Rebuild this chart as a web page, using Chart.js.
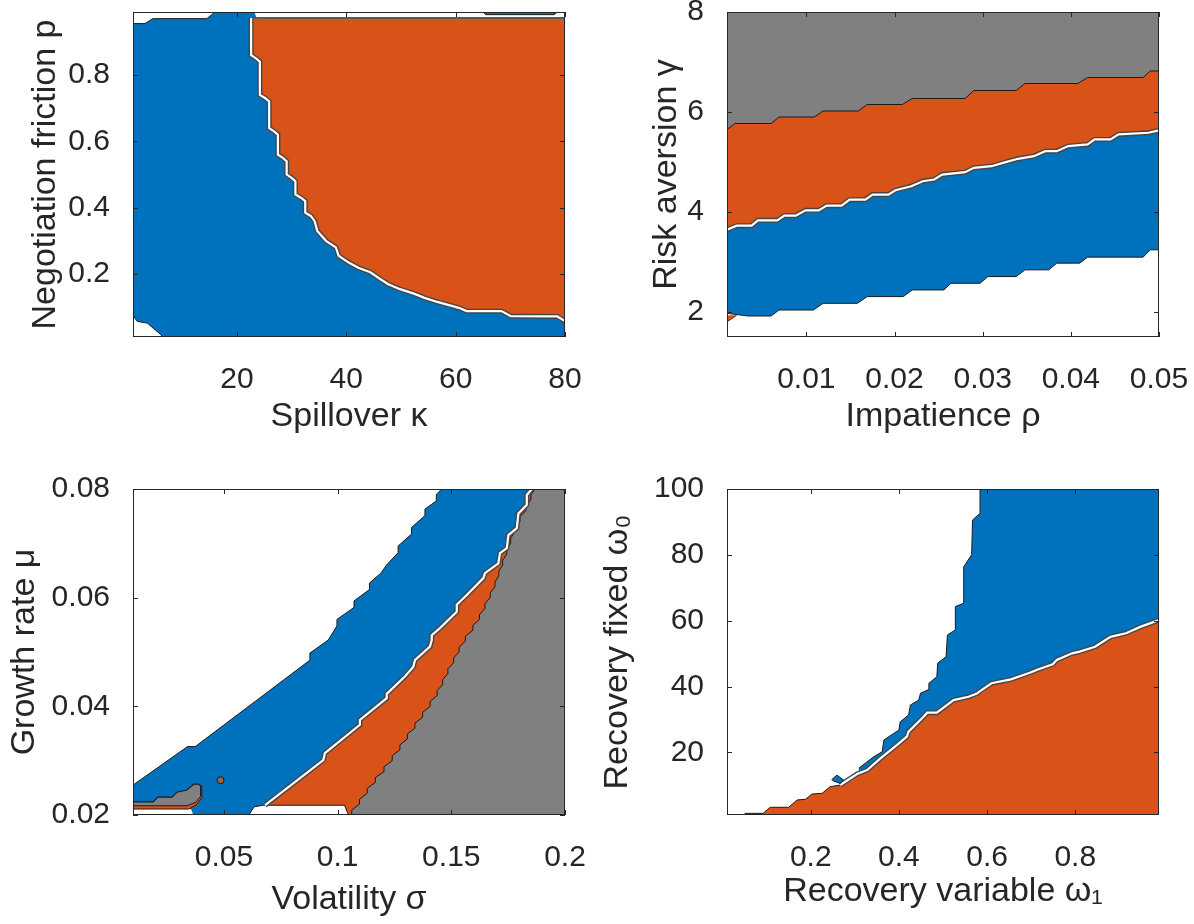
<!DOCTYPE html>
<html>
<head>
<meta charset="utf-8">
<script src="https://cdn.jsdelivr.net/npm/chart.js@4.4.1/dist/chart.umd.min.js"></script>
<style>
  html, body { margin: 0; padding: 0; background: #fff; }
  #wrap { position: relative; width: 1194px; height: 924px; }
  canvas { position: absolute; }
</style>
</head>
<body>
<div id="wrap">
  <canvas id="c1" width="597" height="462" style="left:0;top:0"></canvas>
  <canvas id="c2" width="597" height="462" style="left:597px;top:0"></canvas>
  <canvas id="c3" width="597" height="462" style="left:0;top:462px"></canvas>
  <canvas id="c4" width="597" height="462" style="left:597px;top:462px"></canvas>
</div>
<script>
// ---- panel 1: spillover kappa vs negotiation friction p ----
const kappaTicks = [20, 40, 60, 80];
const kappaLabels = ["20", "40", "60", "80"];
const frictionTicks = [0.2, 0.4, 0.6, 0.8];
const frictionLabels = ["0.2", "0.4", "0.6", "0.8"];
const p1BlueTop = [[1, 0.955], [3.2, 0.955], [4.6, 0.97], [14.5, 0.97], [16, 0.99], [23.2, 0.99], [23.6, 0.972], [80, 0.972]];
const p1WhiteCorner = [[1, 0.075], [1.8, 0.057], [3.6, 0.052], [6.1, 0.017], [6.4, 0.01]];
const p1BlueSpeck = [[65, 0.99], [65.5, 0.982], [78, 0.982], [78.6, 0.99]];
const p1OrangeTop = [[22.6, 0.972], [80, 0.972]];
const p1OrangeEdge = [
  [22.6, 0.972], [22.6, 0.86], [23.5, 0.85], [24.2, 0.84], [24.2, 0.74], [25.2, 0.73], [25.9, 0.72],
  [25.9, 0.64], [26.8, 0.63], [27.5, 0.62], [27.5, 0.56], [28.4, 0.55], [29.1, 0.54], [29.1, 0.5],
  [30.0, 0.49], [30.7, 0.48], [30.7, 0.44], [31.7, 0.43], [32.5, 0.42], [32.5, 0.385], [33.5, 0.375],
  [34.2, 0.36], [34.7, 0.33], [36.3, 0.3], [38.1, 0.28], [38.6, 0.255], [39.5, 0.245], [40.6, 0.233],
  [42.3, 0.218], [44.4, 0.205], [46.2, 0.185], [47.6, 0.17], [49.7, 0.155], [52.5, 0.14], [54.3, 0.128],
  [56.8, 0.115], [60.6, 0.098], [62.0, 0.088], [68.4, 0.088], [70.1, 0.073], [78.6, 0.072], [80, 0.058]
];

// ---- panel 2: impatience rho vs risk aversion gamma ----
const rhoTicks = [0.01, 0.02, 0.03, 0.04, 0.05];
const rhoLabels = ["0.01", "0.02", "0.03", "0.04", "0.05"];
const gammaTicks = [2, 4, 6, 8];
const gammaLabels = ["2", "4", "6", "8"];
const p2LowEdge = [
  [0.001, 1.973], [0.0034, 1.92], [0.006, 1.92], [0.0069, 2.04], [0.0108, 2.04], [0.0119, 2.174],
  [0.0158, 2.174], [0.0169, 2.308], [0.021, 2.308], [0.022, 2.441], [0.0256, 2.441], [0.0264, 2.575],
  [0.0297, 2.575], [0.0306, 2.709], [0.0338, 2.709], [0.0348, 2.843], [0.0375, 2.843], [0.0384, 2.977],
  [0.041, 2.977], [0.0419, 3.097], [0.0482, 3.097], [0.049, 3.244], [0.05, 3.244]
];
const p2MidEdge = [
  [0.001, 3.645], [0.0021, 3.726], [0.0038, 3.726], [0.0045, 3.833], [0.0067, 3.833], [0.0075, 3.926],
  [0.0088, 3.926], [0.0099, 4.033], [0.0114, 4.033], [0.0123, 4.127], [0.014, 4.127], [0.0149, 4.247],
  [0.0167, 4.247], [0.0175, 4.348], [0.0193, 4.348], [0.0201, 4.435], [0.0219, 4.515], [0.0232, 4.615],
  [0.0245, 4.649], [0.0254, 4.749], [0.028, 4.796], [0.029, 4.883], [0.031, 4.916], [0.0323, 4.983],
  [0.034, 5.064], [0.0358, 5.117], [0.0371, 5.217], [0.0384, 5.217], [0.0397, 5.318], [0.0419, 5.351],
  [0.0427, 5.452], [0.0445, 5.452], [0.0454, 5.552], [0.0488, 5.585], [0.05, 5.632]
];
const p2TopEdge = [
  [0.001, 5.65], [0.0019, 5.77], [0.006, 5.77], [0.0069, 5.9], [0.0109, 5.9], [0.0119, 6.02],
  [0.0159, 6.02], [0.0169, 6.15], [0.0209, 6.15], [0.022, 6.27], [0.028, 6.27], [0.029, 6.43],
  [0.0338, 6.43], [0.0348, 6.57], [0.0408, 6.57], [0.0419, 6.69], [0.0482, 6.69], [0.049, 6.82], [0.05, 6.82]
];
const p2SliverTop = [[0.001, 1.935], [0.0021, 1.935]];
const p2SliverBase = [[0.001, 1.8], [0.0021, 1.935]];

// ---- panel 3: volatility sigma vs growth rate mu ----
const sigmaTicks = [0.05, 0.1, 0.15, 0.2];
const sigmaLabels = ["0.05", "0.1", "0.15", "0.2"];
const muTicks = [0.02, 0.04, 0.06, 0.08];
const muLabels = ["0.02", "0.04", "0.06", "0.08"];
const p3BlueEdge = [
  [0.01, 0.0255], [0.034, 0.0326], [0.0374, 0.0326], [0.0615, 0.0402], [0.0878, 0.0485], [0.0878, 0.0498],
  [0.0959, 0.0522], [0.0997, 0.0548], [0.0997, 0.056], [0.1072, 0.0582], [0.1072, 0.0594], [0.114, 0.0615],
  [0.114, 0.0627], [0.119, 0.0645], [0.1215, 0.066], [0.1266, 0.0683], [0.1266, 0.0695], [0.1325, 0.0717],
  [0.1325, 0.0729], [0.1384, 0.0751], [0.1384, 0.0763], [0.1434, 0.0778], [0.1434, 0.079], [0.1458, 0.08]
];
const p3OrangeEdge = [
  [0.0681, 0.0218], [0.0937, 0.0301], [0.0944, 0.0314], [0.1098, 0.0366], [0.1098, 0.0375], [0.1216, 0.0415],
  [0.1216, 0.0423], [0.1296, 0.0455], [0.1333, 0.0473], [0.134, 0.0485], [0.1406, 0.051], [0.1414, 0.0522],
  [0.1414, 0.0531], [0.145, 0.0544], [0.1524, 0.0574], [0.1524, 0.0587], [0.1568, 0.0605], [0.1641, 0.0636],
  [0.1648, 0.0645], [0.1707, 0.0663], [0.1714, 0.0682], [0.1744, 0.0691], [0.1751, 0.0715], [0.1788, 0.0728],
  [0.1795, 0.0755], [0.1832, 0.0771], [0.1832, 0.0789], [0.1854, 0.08]
];
const p3GreyEdge = [
  [0.1062, 0.02], [0.1062, 0.0209], [0.1096, 0.022], [0.1096, 0.0229], [0.113, 0.024], [0.113, 0.0249],
  [0.1166, 0.026], [0.1166, 0.0269], [0.1204, 0.028], [0.1204, 0.0289], [0.124, 0.03], [0.124, 0.0309],
  [0.1274, 0.032], [0.1274, 0.0329], [0.1307, 0.034], [0.1307, 0.0349], [0.134, 0.036], [0.134, 0.0369],
  [0.1374, 0.038], [0.1374, 0.0389], [0.1407, 0.04], [0.1407, 0.0409], [0.1438, 0.042], [0.1438, 0.0429],
  [0.1462, 0.044], [0.1462, 0.0449], [0.1485, 0.046], [0.1485, 0.0469], [0.151, 0.048], [0.151, 0.0489],
  [0.1534, 0.05], [0.1534, 0.0509], [0.1562, 0.052], [0.1562, 0.0529], [0.1595, 0.054], [0.1595, 0.0549],
  [0.1624, 0.056], [0.1624, 0.0569], [0.1648, 0.058], [0.1648, 0.0589], [0.1671, 0.06], [0.1671, 0.0609],
  [0.1692, 0.062], [0.1692, 0.0629], [0.1709, 0.064], [0.1709, 0.0649], [0.1726, 0.066], [0.1726, 0.0669],
  [0.1744, 0.068], [0.1744, 0.0689], [0.1761, 0.07], [0.1761, 0.0709], [0.1777, 0.072], [0.1777, 0.0729],
  [0.1802, 0.074], [0.1802, 0.0749], [0.1828, 0.076], [0.1828, 0.0769], [0.185, 0.078], [0.185, 0.0789],
  [0.1868, 0.08]
];
const p3WhiteBottom = [[0.061, 0.02], [0.0632, 0.0215], [0.0672, 0.0218], [0.103, 0.0218], [0.1043, 0.0205], [0.1048, 0.02]];
const p3WhiteLeft = [[0.0102, 0.0211], [0.0355, 0.0211], [0.0365, 0.02]];
const p3IslandTop = [
  [0.0102, 0.0224], [0.0188, 0.0224], [0.021, 0.0233], [0.0272, 0.0233], [0.0293, 0.0242],
  [0.0337, 0.0246], [0.0368, 0.0257], [0.0386, 0.0257], [0.0403, 0.0253]
];
const p3IslandRim = [[0.0102, 0.0211], [0.0345, 0.0211], [0.0377, 0.0218], [0.0403, 0.0232], [0.0403, 0.0253]];
const p3IslandCore = [[0.0102, 0.0217], [0.0337, 0.0217], [0.0375, 0.0223], [0.0397, 0.0234], [0.0397, 0.0253]];
const p3Dot = [[0.0485, 0.0264]];

// ---- panel 4: recovery variable w1 vs recovery fixed w0 ----
const w1Ticks = [0.2, 0.4, 0.6, 0.8];
const w1Labels = ["0.2", "0.4", "0.6", "0.8"];
const w0Ticks = [20, 40, 60, 80, 100];
const w0Labels = ["20", "40", "60", "80", "100"];
const p4BlueEdge = [
  [0.309, 15.2], [0.343, 18.7], [0.362, 20.2], [0.366, 23.8], [0.4, 26.8], [0.403, 29.3], [0.422, 31.4],
  [0.426, 34.4], [0.445, 35.9], [0.449, 38.0], [0.466, 39.0], [0.468, 41.0], [0.486, 43.0], [0.488, 47.1],
  [0.507, 49.1], [0.51, 55.7], [0.528, 57.2], [0.528, 64.3], [0.547, 65.3], [0.547, 76.4], [0.565, 80.0],
  [0.567, 90.6], [0.584, 92.6], [0.584, 100]
];
const p4OrangeEdge = [
  [0.05, 1.5], [0.092, 1.5], [0.108, 3.34], [0.15, 3.34], [0.169, 5.56], [0.188, 5.77], [0.203, 7.38],
  [0.226, 7.59], [0.244, 9.59], [0.267, 10.1], [0.305, 13.45], [0.328, 14.67], [0.358, 18.2], [0.396, 22.3],
  [0.418, 24.8], [0.422, 26.3], [0.456, 30.85], [0.464, 32.07], [0.486, 32.07], [0.524, 35.9], [0.558, 36.9],
  [0.577, 37.9], [0.584, 38.65], [0.61, 41.0], [0.654, 42.2], [0.697, 44.2], [0.715, 45.2], [0.749, 46.8],
  [0.758, 48.1], [0.793, 50.1], [0.81, 50.6], [0.845, 52.1], [0.88, 55.1], [0.915, 56.2], [0.949, 58.2], [0.99, 60.2]
];
const p4SpeckTop = [[0.248, 11.8], [0.2595, 13.1], [0.2747, 11.6]];
const p4SpeckBottom = [[0.248, 11.8], [0.2505, 11.4], [0.267, 10.6], [0.2747, 11.6]];

// ---- styling ----
const BLUE = "#0072BD";
const ORANGE = "#D95319";
const GREY = "#808080";
const WHITE = "#ffffff";
const LINE = "#1a1a1a";
const INK = "#262626";
const FONT = "'Liberation Sans', Arial, Helvetica, sans-serif";

Chart.defaults.font.family = FONT;
Chart.defaults.color = INK;

const pts = (arr) => arr.map(([x, y]) => ({ x, y }));

// filled area bounded by one contour line
function region(data, color, fill) {
  return { data: pts(data), showLine: true, fill: fill, backgroundColor: color,
    borderWidth: 0, pointRadius: 0, tension: 0 };
}
// plain contour line
function edge(data, color, width) {
  return { data: pts(data), showLine: true, fill: false, borderColor: color,
    borderWidth: width, pointRadius: 0, tension: 0 };
}
// the blue/orange border in the original is a thin white level outlined in black
function seam(data) {
  return [edge(data, "#454545", 5), edge(data, WHITE, 2.2)];
}

// box with inward ticks on all four sides, like the matlab axes
const boxTicks = {
  id: "boxTicks",
  afterDatasetsDraw(chart) {
    const { ctx, chartArea: a } = chart;
    const x = chart.scales.x, y = chart.scales.y;
    ctx.save();
    ctx.strokeStyle = INK;
    ctx.lineWidth = 1;
    ctx.beginPath();
    x.ticks.forEach((t) => {
      const px = Math.round(x.getPixelForValue(t.value)) + 0.5;
      ctx.moveTo(px, a.bottom); ctx.lineTo(px, a.bottom - 5);
      ctx.moveTo(px, a.top); ctx.lineTo(px, a.top + 5);
    });
    y.ticks.forEach((t) => {
      const py = Math.round(y.getPixelForValue(t.value)) + 0.5;
      ctx.moveTo(a.left, py); ctx.lineTo(a.left + 5, py);
      ctx.moveTo(a.right, py); ctx.lineTo(a.right - 5, py);
    });
    ctx.stroke();
    ctx.strokeRect(Math.round(a.left) + 0.5, Math.round(a.top) + 0.5,
      Math.round(a.right - a.left) - 1, Math.round(a.bottom - a.top) - 1);
    ctx.restore();
  }
};

function makeChart(id, o) {
  // first listed = bottom layer
  const n = o.datasets.length;
  o.datasets.forEach((d, i) => { d.order = n - i; });
  return new Chart(document.getElementById(id), {
    type: "scatter",
    data: { datasets: o.datasets },
    plugins: [boxTicks],
    options: {
      responsive: false,
      animation: false,
      events: [],
      layout: { padding: { left: 0, right: o.rightPad, top: o.topPad, bottom: 0 } },
      plugins: { legend: { display: false }, tooltip: { enabled: false } },
      scales: {
        x: {
          type: "linear", min: o.xMin, max: o.xMax,
          grid: { display: false }, border: { display: false },
          afterBuildTicks: (s) => { s.ticks = o.xTicks.map((v) => ({ value: v })); },
          afterFit: (s) => { s.height = o.xAxisH; s.paddingLeft = 0; s.paddingRight = 0; },
          ticks: { autoSkip: false, maxRotation: 0, padding: 17, color: INK,
            font: { size: 30 }, callback: (v, i) => o.xLabels[i] },
          title: { display: true, text: o.xTitle, color: INK, font: { size: 34 },
            padding: { top: 0, bottom: o.xTitlePad } }
        },
        y: {
          type: "linear", min: o.yMin, max: o.yMax,
          grid: { display: false }, border: { display: false },
          afterBuildTicks: (s) => { s.ticks = o.yTicks.map((v) => ({ value: v })); },
          afterFit: (s) => { s.width = o.yAxisW; s.paddingTop = 0; s.paddingBottom = 0; },
          ticks: { autoSkip: false, padding: 15, color: INK,
            font: { size: 30 }, callback: (v, i) => o.yLabels[i] },
          title: { display: true, text: o.yTitle, color: INK, font: { size: 34 },
            padding: { top: o.yTitlePad, bottom: 0 } }
        }
      }
    }
  });
}

makeChart("c1", {
  xMin: 1, xMax: 80, yMin: 0.01, yMax: 0.99,
  xTicks: kappaTicks, xLabels: kappaLabels, yTicks: frictionTicks, yLabels: frictionLabels,
  xTitle: "Spillover κ", yTitle: "Negotiation friction p",
  yAxisW: 133, rightPad: 32, topPad: 12, xAxisH: 125, xTitlePad: 25, yTitlePad: 25,
  datasets: [
    region(p1BlueTop, BLUE, "start"),
    edge(p1BlueTop.slice(0, 6), LINE, 1),
    region(p1WhiteCorner, WHITE, "start"),
    edge(p1WhiteCorner, LINE, 1),
    region(p1BlueSpeck, BLUE, "end"),
    edge(p1BlueSpeck, LINE, 1),
    region(p1OrangeEdge, ORANGE, { value: 0.972 }),
    edge(p1OrangeTop, "#5a5a5a", 2),
    ...seam(p1OrangeEdge)
  ]
});

makeChart("c2", {
  xMin: 0.001, xMax: 0.05, yMin: 1.5, yMax: 8,
  xTicks: rhoTicks, xLabels: rhoLabels, yTicks: gammaTicks, yLabels: gammaLabels,
  xTitle: "Impatience ρ", yTitle: "Risk aversion γ",
  yAxisW: 130, rightPad: 35, topPad: 12, xAxisH: 125, xTitlePad: 25, yTitlePad: 49,
  datasets: [
    region(p2LowEdge, BLUE, "end"),
    region(p2MidEdge, ORANGE, "end"),
    region(p2TopEdge, GREY, "end"),
    region(p2SliverTop, ORANGE, "+1"),
    edge(p2SliverBase, LINE, 0.8),
    edge(p2LowEdge, LINE, 1),
    edge(p2TopEdge, LINE, 1),
    ...seam(p2MidEdge)
  ]
});

makeChart("c3", {
  xMin: 0.01, xMax: 0.2, yMin: 0.02, yMax: 0.08,
  xTicks: sigmaTicks, xLabels: sigmaLabels, yTicks: muTicks, yLabels: muLabels,
  xTitle: "Volatility σ", yTitle: "Growth rate μ",
  yAxisW: 133, rightPad: 32, topPad: 27, xAxisH: 109, xTitlePad: 4, yTitlePad: 4,
  datasets: [
    region([...p3BlueEdge, [0.2, 0.08]], BLUE, "start"),
    region([...p3OrangeEdge, [0.2, 0.08]], ORANGE, "start"),
    region(p3WhiteBottom, WHITE, "start"),
    region([...p3GreyEdge, [0.2, 0.08]], GREY, "start"),
    edge(p3BlueEdge, LINE, 1),
    edge(p3WhiteBottom, LINE, 1),
    edge(p3GreyEdge, LINE, 1),
    ...seam(p3OrangeEdge),
    region(p3WhiteLeft, WHITE, "start"),
    region(p3IslandTop, ORANGE, "+1"),
    edge(p3IslandRim, LINE, 1),
    region(p3IslandTop, GREY, "+1"),
    edge(p3IslandCore, LINE, 1),
    edge(p3IslandTop, LINE, 1.2),
    { data: pts(p3Dot), pointRadius: 3.5, pointBackgroundColor: "#a0603c",
      pointBorderColor: LINE, pointBorderWidth: 1, showLine: false }
  ]
});

makeChart("c4", {
  xMin: 0.01, xMax: 0.99, yMin: 1, yMax: 100,
  xTicks: w1Ticks, xLabels: w1Labels, yTicks: w0Ticks, yLabels: w0Labels,
  xTitle: "Recovery variable ω₁", yTitle: "Recovery fixed ω₀",
  yAxisW: 130, rightPad: 35, topPad: 27, xAxisH: 109, xTitlePad: 12, yTitlePad: 0,
  datasets: [
    region([...p4BlueEdge, [0.99, 100]], BLUE, "start"),
    edge(p4BlueEdge, LINE, 1),
    region(p4OrangeEdge, ORANGE, "start"),
    edge(p4OrangeEdge, LINE, 1),
    ...seam(p4OrangeEdge.slice(9)),
    region(p4SpeckTop, BLUE, "+1"),
    edge(p4SpeckBottom, LINE, 1),
    edge(p4SpeckTop, LINE, 1)
  ]
});
</script>
</body>
</html>
